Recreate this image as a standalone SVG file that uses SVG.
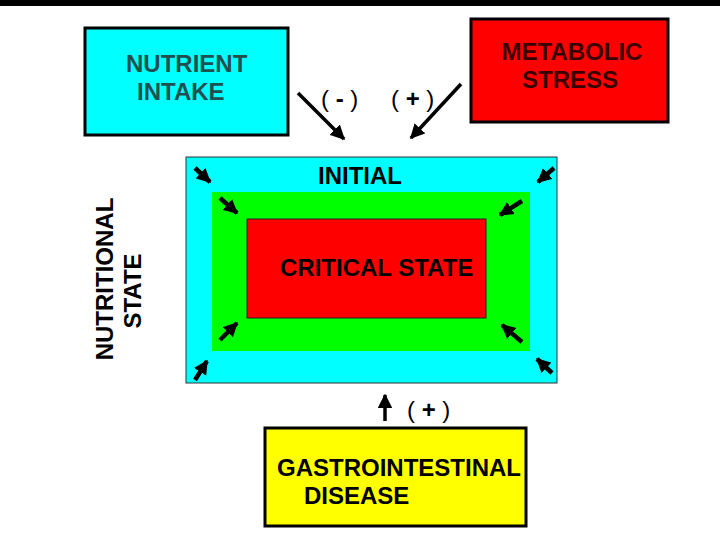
<svg xmlns="http://www.w3.org/2000/svg" width="720" height="540" viewBox="0 0 720 540">
<style>
.t{font-family:"Liberation Sans",Arial,sans-serif;font-weight:bold;font-size:24px}
.p{font-family:"Liberation Sans",Arial,sans-serif;font-size:24px}
.box{stroke:#000;stroke-width:3}
.ln{stroke:#000;stroke-width:3.5;fill:none}
.sa{stroke:#000;stroke-width:4.5;fill:none}
</style>
<defs>
<marker id="ah" viewBox="0 0 10 10" refX="9" refY="5" markerWidth="4.2" markerHeight="4.2" orient="auto" markerUnits="strokeWidth">
<path d="M0,0 L10,5 L0,10 z" fill="#000"/>
</marker>
<marker id="sh" viewBox="0 0 10 10" refX="9" refY="5" markerWidth="3.2" markerHeight="3.4" orient="auto" markerUnits="strokeWidth">
<path d="M0,0 L10,5 L0,10 z" fill="#000"/>
</marker>
</defs>
<rect width="720" height="540" fill="#fff"/>
<rect x="0" y="0" width="720" height="6" fill="#000"/>

<g id="nutritional-state">
<rect x="186" y="157" width="371" height="226" fill="#00ffff" stroke="#333" stroke-width="1"/>
<text class="t" transform="translate(113,279) rotate(-90)" text-anchor="middle">NUTRITIONAL</text>
<text class="t" transform="translate(141,291) rotate(-90)" text-anchor="middle">STATE</text>
<text class="t" x="318" y="184">INITIAL</text>
</g>
<g id="green-zone">
<rect x="212" y="192" width="318" height="159" fill="#00ff00"/>
</g>
<g id="critical-state">
<rect x="247" y="219" width="239" height="99" fill="#ff0000" stroke="#222" stroke-width="1"/>
<text class="t" x="280" y="276">CRITICAL STATE</text>
</g>

<g id="nutrient-intake">
<rect class="box" x="85" y="28" width="203" height="107" fill="#00ffff"/>
<text class="t" x="126" y="72" fill="#1f4f4f">NUTRIENT</text>
<text class="t" x="137" y="100" fill="#1f4f4f">INTAKE</text>
</g>
<g id="metabolic-stress">
<rect class="box" x="471" y="19" width="197" height="103" fill="#ff0000"/>
<text class="t" x="572" y="60" text-anchor="middle" fill="#3a0000">METABOLIC</text>
<text class="t" x="570" y="88" text-anchor="middle" fill="#3a0000">STRESS</text>
</g>
<g id="gi-disease">
<rect class="box" x="265" y="428" width="261" height="98" fill="#ffff00"/>
<text class="t" x="277" y="476">GASTROINTESTINAL</text>
<text class="t" x="304" y="504">DISEASE</text>
</g>

<g id="connectors">
<line class="ln" x1="298" y1="93" x2="344" y2="139" marker-end="url(#ah)"/>
<line class="ln" x1="461" y1="84" x2="411" y2="138" marker-end="url(#ah)"/>
<line class="ln" x1="385" y1="421" x2="385" y2="395" marker-end="url(#ah)"/>
<line class="sa" x1="195" y1="168" x2="210" y2="182" marker-end="url(#sh)"/>
<line class="sa" x1="220" y1="198" x2="237" y2="213" marker-end="url(#sh)"/>
<line class="sa" x1="554" y1="168" x2="538" y2="182" marker-end="url(#sh)"/>
<line class="sa" x1="522" y1="201" x2="500" y2="215" marker-end="url(#sh)"/>
<line class="sa" x1="220" y1="340" x2="237" y2="323" marker-end="url(#sh)"/>
<line class="sa" x1="195" y1="380" x2="207" y2="361" marker-end="url(#sh)"/>
<line class="sa" x1="522" y1="342" x2="502" y2="325" marker-end="url(#sh)"/>
<line class="sa" x1="552" y1="373" x2="537" y2="359" marker-end="url(#sh)"/>
<text class="p" x="321" y="107">( <tspan font-weight="bold">-</tspan> )</text>
<text class="p" x="391" y="107">( <tspan font-weight="bold">+</tspan> )</text>
<text class="p" x="407" y="418">( <tspan font-weight="bold">+</tspan> )</text>
</g>
</svg>
